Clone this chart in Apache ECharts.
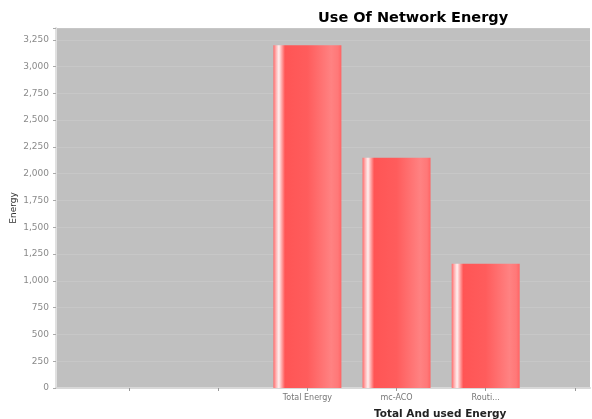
<!DOCTYPE html>
<html>
<head>
<meta charset="utf-8">
<script src="https://cdn.jsdelivr.net/npm/echarts@6/dist/echarts.min.js"></script>
<style>
html,body{margin:0;padding:0;background:#fff;}
#main{width:592px;height:419px;}
</style>
</head>
<body>
<div id="main"></div>
<script>
// categories on the x axis (first two and last are blank in the original)
var categories = ['', '', 'Total Energy', 'mc-ACO', 'Routi...', ''];
var energy = [null, null, 3200, 2150, 1160, null];
var yTicks = [0, 250, 500, 750, 1000, 1250, 1500, 1750, 2000, 2250, 2500, 2750, 3000, 3250];

var chart = echarts.init(document.getElementById('main'));

// bar look: white shine on the left, lighter red to the right
var barColor = new echarts.graphic.LinearGradient(0, 0, 1, 0, [
  {offset: 0, color: '#ff6a6a'},
  {offset: 0.04, color: '#ffb4b4'},
  {offset: 0.08, color: '#fff0f0'},
  {offset: 0.12, color: '#ffaaaa'},
  {offset: 0.17, color: '#ff5555'},
  {offset: 0.5, color: '#ff5c5c'},
  {offset: 0.85, color: '#ff8282'},
  {offset: 0.95, color: '#ff7878'},
  {offset: 1, color: '#ff6464'}
]);

var option = {
  animation: false,
  title: [{
    text: 'Use Of Network Energy',
    left: 313, top: 6,
    textStyle: {fontFamily: 'DejaVu Sans', fontSize: 14.5, fontWeight: 'bold', color: '#000'}
  }, {
    text: 'Total And used Energy',
    left: 369, top: 404,
    textStyle: {fontFamily: 'DejaVu Sans', fontSize: 10.5, fontWeight: 'bold', color: '#222'}
  }],
  grid: {
    left: 56, right: 2, top: 28, bottom: 31,
    outerBoundsMode: 'none',
    show: true,
    backgroundColor: '#c0c0c0',
    borderWidth: 0
  },
  xAxis: {
    type: 'value',
    min: -0.82,
    max: 5.17,
    axisLine: {show: true, onZero: false, lineStyle: {color: '#d8d8d8', width: 2}},
    axisTick: {show: true, customValues: [0, 1, 2, 3, 4, 5], length: 3, lineStyle: {color: '#999'}},
    axisLabel: {
      customValues: [0, 1, 2, 3, 4, 5],
      formatter: function (v) { return categories[Math.round(v)]; },
      color: '#777', fontFamily: 'DejaVu Sans', fontSize: 8, margin: 6
    },
    splitLine: {show: false}
  },
  yAxis: {
    type: 'value',
    min: 0,
    max: 3360,
    interval: 250,
    name: 'Energy',
    nameLocation: 'middle',
    nameGap: 38,
    nameMoveOverlap: false,
    nameRotate: 90,
    nameTextStyle: {color: '#333', fontFamily: 'DejaVu Sans', fontSize: 9},
    axisLine: {show: true, onZero: false, lineStyle: {color: '#e0e0e0', width: 2}},
    axisTick: {show: true, length: 3, lineStyle: {color: '#aaa'}},
    axisLabel: {
      color: '#8a8a8a', fontFamily: 'DejaVu Sans', fontSize: 9, margin: 7,
      formatter: function (v) { return yTicks.indexOf(v) >= 0 ? v.toLocaleString('en-US') : ''; }
    },
    splitLine: {show: true, lineStyle: {color: 'rgba(255,255,255,0.12)', width: 1}}
  },
  series: [{
    type: 'bar',
    barWidth: 68,
    itemStyle: {color: barColor},
    data: energy.map(function (v, i) { return [i, v]; })
  }]
};

chart.setOption(option);
window.addEventListener("resize", function () {
  chart.resize();
});
</script>
</body>
</html>
